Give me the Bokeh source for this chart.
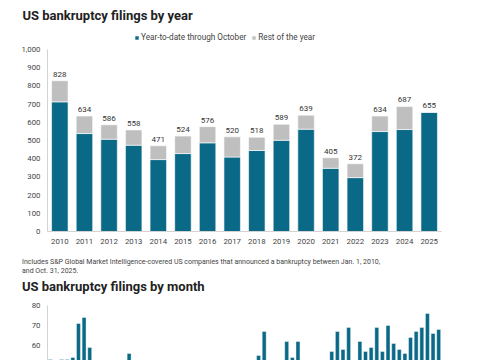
from bokeh.plotting import figure
from bokeh.models import (ColumnDataSource, Legend, LegendItem, Range1d, Div,
                          FactorRange, NumeralTickFormatter, FixedTicker, LabelSet)
from bokeh.core.properties import value
from bokeh.layouts import column
from bokeh.embed import file_html
from bokeh.resources import INLINE

# ---------------- data ----------------
years = [str(y) for y in range(2010, 2026)]
ytd_values = [712, 538, 507, 474, 395, 428, 487, 409, 445, 501, 562, 347, 296, 549, 560, 655]
total_values = [828, 634, 586, 558, 471, 524, 576, 520, 518, 589, 639, 405, 372, 634, 687, 655]
rest_values = [t - y for t, y in zip(total_values, ytd_values)]
year_ticks = [0, 100, 200, 300, 400, 500, 600, 700, 800, 900, 1000]

months = [f"{y}-{m:02d}" for y in range(2020, 2026) for m in range(1, 13)][:70]
month_values = [
    53, 50, 53, 53, 54, 71, 74, 59, 47, 44, 41, 40,   # 2020
    34, 38, 56, 36, 33, 33, 28, 31, 30, 30, 29, 27,   # 2021
    29, 27, 29, 32, 30, 32, 30, 31, 33, 31, 33, 35,   # 2022
    49, 55, 67, 51, 47, 48, 62, 54, 62, 49, 45, 45,   # 2023
    45, 44, 57, 67, 58, 69, 43, 62, 57, 59, 69, 57,   # 2024
    70, 61, 58, 56, 64, 67, 69, 76, 66, 68,           # 2025 (Jan-Oct)
]
month_ticks = [60, 70, 80]

title1 = "US bankruptcy filings by year"
title2 = "US bankruptcy filings by month"
legend_labels = ["Year-to-date through October", "Rest of the year"]
note_lines = ["Includes S&amp;P Global Market Intelligence-covered US companies that announced a bankruptcy between Jan. 1, 2010,",
              "and Oct. 31, 2025."]

# ---------------- style ----------------
TEAL = "#0A6987"
GREY = "#BFBFBF"
FONT = "Roboto"
TXT = "#444444"
AXIS = "#D3D3D3"


def style_axis(ax):
    ax.major_tick_line_color = None
    ax.minor_tick_line_color = None
    ax.major_tick_out = 0
    ax.major_tick_in = 0
    ax.axis_line_color = AXIS
    ax.major_label_text_font_size = "7.8px"
    ax.major_label_text_color = TXT
    ax.major_label_text_font = FONT


# ---------------- chart 1 ----------------
src = ColumnDataSource(dict(year=years, ytd=ytd_values, rest=rest_values, total=total_values,
                            total_txt=[str(v) for v in total_values]))

p1 = figure(width=485, height=249, x_range=FactorRange(*years, range_padding=0),
            y_range=Range1d(0, 1115), output_backend="svg", toolbar_location=None,
            min_border_left=47, min_border_right=32, min_border_top=28, min_border_bottom=18)
p1.outline_line_color = None
p1.grid.visible = False

p1.title.text = title1
p1.title.text_font = FONT
p1.title.text_font_size = "13px"
p1.title.text_font_style = "bold"
p1.title.text_color = "#222222"
p1.title.align = "left"
p1.title.offset = -25
p1.title.standoff = 11

rs = p1.vbar_stack(["ytd", "rest"], x="year", width=0.67, color=[TEAL, GREY],
                   line_color="white", line_width=0.6, source=src)

labels = LabelSet(x="year", y="total", text="total_txt", source=src, text_align="center",
                  text_baseline="bottom", y_offset=4, text_font_size=value("8px"),
                  text_color="#333333", text_font=value(FONT))
p1.add_layout(labels)

p1.yaxis.ticker = FixedTicker(ticks=year_ticks)
p1.yaxis.formatter = NumeralTickFormatter(format="0,0")
p1.yaxis.bounds = (0, 1000)
style_axis(p1.xaxis[0])
style_axis(p1.yaxis[0])
p1.yaxis.major_label_standoff = 7
p1.xaxis.major_label_standoff = 7

legend = Legend(items=[LegendItem(label=legend_labels[0], renderers=[rs[0]]),
                       LegendItem(label=legend_labels[1], renderers=[rs[1]])],
                orientation="horizontal", location=(87, 189),
                glyph_width=5, glyph_height=5, label_standoff=2, spacing=5,
                padding=0, margin=0, border_line_color=None, background_fill_alpha=0,
                label_text_font_size="8.2px", label_text_color=TXT, label_text_font=FONT,
                label_height=8)
p1.add_layout(legend, "center")

# ---------------- text strip (note + second title) ----------------
strip_html = (
    f'<div style="margin:0;padding:0 0 0 22px;font-family:{FONT};">'
    f'<div style="font-size:7px;line-height:9px;padding-top:8.5px;color:{TXT};white-space:nowrap;">'
    f'{note_lines[0]}<br>{note_lines[1]}</div>'
    f'<div style="font-size:13px;line-height:16px;margin-top:3.5px;font-weight:bold;color:#222222;white-space:nowrap;">'
    f'{title2}</div></div>'
)
pt = Div(text=strip_html, width=485, height=51, margin=(0, 0, 0, 0))

# ---------------- chart 2 ----------------
src2 = ColumnDataSource(dict(month=months, value=month_values))
p2 = figure(width=485, height=60, x_range=FactorRange(*months, range_padding=0),
            y_range=Range1d(52.5, 80), output_backend="svg", toolbar_location=None,
            title_location=None,
            min_border_left=37, min_border_right=44, min_border_top=5, min_border_bottom=0)
p2.outline_line_color = None
p2.grid.visible = False

p2.vbar(x="month", top="value", bottom=0, width=0.7, color=TEAL, line_color="white",
        line_width=0.4, source=src2)
p2.xaxis.visible = False
p2.yaxis.ticker = FixedTicker(ticks=month_ticks)
style_axis(p2.yaxis[0])
p2.yaxis.major_label_standoff = 7

layout = column(p1, pt, p2, spacing=0)
open("out.html", "w").write(file_html(layout, INLINE))
